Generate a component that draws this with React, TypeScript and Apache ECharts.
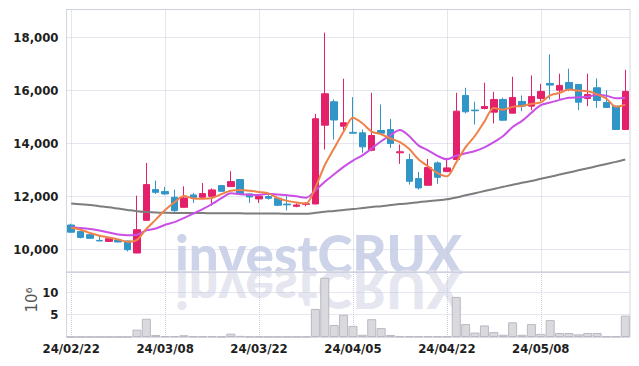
import React, { useEffect, useRef } from 'react';
import * as echarts from 'echarts';

const dates = [
  '24/02/22','24/02/23','24/02/26','24/02/27','24/02/28','24/02/29','24/03/04','24/03/05','24/03/06','24/03/07',
  '24/03/08','24/03/11','24/03/12','24/03/13','24/03/14','24/03/15','24/03/18','24/03/19','24/03/20','24/03/21',
  '24/03/22','24/03/25','24/03/26','24/03/27','24/03/28','24/03/29','24/04/01','24/04/02','24/04/03','24/04/04',
  '24/04/05','24/04/08','24/04/09','24/04/11','24/04/12','24/04/15','24/04/16','24/04/17','24/04/18','24/04/19',
  '24/04/22','24/04/23','24/04/24','24/04/25','24/04/26','24/04/29','24/04/30','24/05/02','24/05/03','24/05/07',
  '24/05/08','24/05/09','24/05/10','24/05/13','24/05/14','24/05/16','24/05/17','24/05/20','24/05/21','24/05/22',
];

const opens = [
  10930,10690,10566,10350,10313,10366,10328,9875,11106,12264,
  12189,11974,11597,12064,11974,12012,12415,12378,12642,12102,
  11913,12000,11938,11720,11635,11710,11723,14691,15574,14653,
  14420,14403,13747,14491,14529,13650,13396,12680,12427,13271,
  12943,13397,15812,15260,15321,15183,15661,15144,15585,15409,
  15699,16265,16012,16302,16227,15699,16101,15548,15409,14529,
];
const closes = [
  10660,10464,10430,10330,10415,10290,10000,10755,12453,12162,
  12102,11472,11951,11963,12113,12253,12201,12566,12102,11989,
  12012,11938,11673,11690,11685,11730,14933,15876,14887,14782,
  14390,13875,14302,14390,14000,13690,12578,12329,13095,12729,
  13083,15220,15197,15235,15397,15661,14880,15736,15409,15774,
  15963,16202,16190,16038,15560,15850,15623,15359,14529,15963,
];
const lows = [
  10640,10426,10410,10320,10290,10280,9937,9870,11100,12102,
  12064,11422,11590,11763,11960,11660,12190,12370,12100,11763,
  11763,11887,11640,11483,11597,11635,11710,13774,14151,14402,
  14378,13650,13710,14340,13836,13234,12453,12264,12420,12479,
  12930,13390,15133,14718,15284,14755,14850,15140,15220,15258,
  15598,15661,15661,15975,15258,15409,15346,15340,14520,14520,
];
const highs = [
  10980,10700,10580,10530,10430,10380,10340,12038,13272,12604,
  12366,12264,12390,12140,12516,12314,12440,12956,12660,12110,
  12100,12075,11950,12012,11747,11800,15121,18179,15661,16441,
  15748,14529,15912,15472,14930,13963,13623,12931,13423,13333,
  13460,15913,16101,15574,16290,15950,15724,16517,15812,16567,
  16253,17359,16630,16819,16240,16631,16454,16011,15420,16778,
];

const ma5 = [
  10830,10755,10630,10528,10460,10386,10300,10370,10783,11132,
  11494,11789,12028,11930,11920,11950,12096,12219,12247,12222,
  12174,12121,11943,11840,11780,11746,12345,13183,13822,14442,
  14974,14762,14447,14348,14191,14051,13792,13397,13138,12884,
  12763,13291,13865,14293,14826,15342,15274,15382,15417,15492,
  15552,15817,15908,16033,15991,15968,15852,15686,15384,15465,
];
const ma10 = [
  10850,10820,10780,10720,10650,10570,10540,10560,10730,10796,
  10940,11041,11193,11356,11526,11722,11943,12124,12089,12071,
  12062,12109,12081,12054,12011,11959,12232,12563,12841,13121,
  13358,13552,13815,14085,14317,14513,14277,13922,13743,13538,
  13407,13542,13631,13716,13855,14052,14283,14623,14855,15159,
  15447,15545,15645,15725,15741,15760,15835,15797,15709,15728,
];
const ma60 = [
  11740,11710,11680,11640,11600,11550,11500,11450,11420,11400,
  11390,11385,11385,11380,11380,11375,11375,11370,11370,11365,
  11365,11360,11360,11355,11350,11350,11390,11430,11460,11500,
  11530,11570,11610,11640,11680,11720,11750,11790,11830,11860,
  11900,11970,12050,12130,12210,12290,12370,12450,12520,12590,
  12670,12750,12830,12910,12990,13070,13150,13230,13310,13400,
];
// volume in millions
const volumes = [
  0.03,0.03,0.03,0.03,0.03,0.03,0.03,1.65,4.1,0.45,
  0.2,0.2,0.4,0.15,0.15,0.15,0.1,0.75,0.25,0.1,
  0.1,0.05,0.05,0.05,0.05,0.05,6.3,13.3,2.7,5.0,
  2.5,0.5,4.0,2.0,0.45,0.15,0.15,0.15,0.15,0.15,
  0.15,9.0,2.9,1.0,2.6,1.1,0.5,3.3,0.5,2.9,
  0.7,3.8,0.9,0.9,0.6,0.9,0.9,0.15,0.15,4.8,
];
const priceTicks = [10000, 12000, 14000, 16000, 18000];
const volTicks = [5, 10];

export default function App() {
  const ref = useRef<HTMLDivElement>(null);
  useEffect(() => {
    const chart = echarts.init(ref.current as HTMLDivElement, null, { renderer: 'svg' });
    const font = "'Liberation Sans Narrow', 'DejaVu Sans Condensed', sans-serif";
    const candle = dates.map((_, i) => [opens[i], closes[i], lows[i], highs[i]]);
    const splitStyle = { color: '#c9cde0', type: 'dotted', width: 1 };
    const labelStyle = { color: '#1e1e1e', fontSize: 13, fontWeight: 'bold', fontFamily: font };
    const wm = { text: 'investCRUX', fontSize: 53, fontWeight: 900, fontFamily: 'Lato, "Liberation Sans", sans-serif', align: 'left', verticalAlign: 'middle', textAlign: 'left', textVerticalAlign: 'middle' };
    chart.setOption({
      animation: false,
      backgroundColor: '#ffffff',
      grid: [
        { left: 66.5, right: 9, top: 9.5, height: 262.5, show: true, borderColor: '#d4d6de', borderWidth: 1, backgroundColor: 'transparent' },
        { left: 66.5, right: 9, top: 272, height: 65, show: true, borderColor: '#d4d6de', borderWidth: 1, backgroundColor: 'transparent' },
      ],
      graphic: [
        { type: 'text', x: 175, y: 253.5, z: -10, silent: true, style: { ...wm, fill: '#cdd3e8' } },
        { type: 'text', x: 175, y: 290.5, scaleY: -1, z: -10, silent: true, style: { ...wm, fill: '#e5e6ef' } },
        {
          type: 'text', x: 32, y: 300, rotation: Math.PI / 2, silent: true,
          style: { text: '10⁶', fontSize: 15, fontFamily: '"DejaVu Sans", sans-serif', fill: '#555', align: 'center', verticalAlign: 'middle', textAlign: 'center', textVerticalAlign: 'middle' },
        },
      ],
      xAxis: [
        {
          type: 'category', gridIndex: 0, data: dates, boundaryGap: true,
          axisLine: { show: false }, axisTick: { show: false, alignWithLabel: true, interval: 9 },
          axisLabel: { show: false, interval: 9 },
          splitLine: { show: true, interval: 9, alignWithLabel: true, lineStyle: splitStyle },
        },
        {
          type: 'category', gridIndex: 1, data: dates, boundaryGap: true,
          axisLine: { show: false }, axisTick: { show: false, alignWithLabel: true, interval: 9 },
          axisLabel: { show: true, interval: 9, margin: 5, ...labelStyle },
          splitLine: { show: true, interval: 9, alignWithLabel: true, lineStyle: splitStyle },
        },
      ],
      yAxis: [
        {
          type: 'value', gridIndex: 0, min: 9160, max: 19050,
          axisLine: { show: false }, axisTick: { show: false },
          splitLine: { show: true, lineStyle: splitStyle },
          axisLabel: {
            margin: 8, ...labelStyle, showMinLabel: false, showMaxLabel: false,
            formatter: (v: number) => (priceTicks.indexOf(v) >= 0 ? v.toLocaleString('en-US') : ''),
          },
        },
        {
          type: 'value', gridIndex: 1, min: 0, max: 14.6, interval: 5,
          axisLine: { show: false }, axisTick: { show: false },
          splitLine: { show: true, lineStyle: splitStyle },
          axisLabel: {
            margin: 8, ...labelStyle,
            formatter: (v: number) => (volTicks.indexOf(v) >= 0 ? String(v) : ''),
          },
        },
      ],
      series: [
        {
          type: 'candlestick', xAxisIndex: 0, yAxisIndex: 0, data: candle, barWidth: 7, z: 2,
          itemStyle: { color: '#e5206b', color0: '#3195c8', borderColor: '#e5206b', borderColor0: '#3195c8', borderWidth: 1 },
        },
        { type: 'line', xAxisIndex: 0, yAxisIndex: 0, data: ma60, symbol: 'none', smooth: 0.3, z: 3, lineStyle: { color: '#7d7d7d', width: 2 } },
        { type: 'line', xAxisIndex: 0, yAxisIndex: 0, data: ma10, symbol: 'none', smooth: 0.3, z: 3, lineStyle: { color: '#c94fe6', width: 2 } },
        { type: 'line', xAxisIndex: 0, yAxisIndex: 0, data: ma5, symbol: 'none', smooth: 0.3, z: 3, lineStyle: { color: '#ef8248', width: 2 } },
        {
          type: 'bar', xAxisIndex: 1, yAxisIndex: 1, data: volumes, barCategoryGap: '4%',
          itemStyle: { color: '#d9d9de', borderColor: '#b9b9c2', borderWidth: 1 },
        },
      ],
    });
    return () => chart.dispose();
  }, []);
  return <div ref={ref} style={{ position: 'absolute', left: 0, top: 0, width: 639, height: 366 }} />;
}
